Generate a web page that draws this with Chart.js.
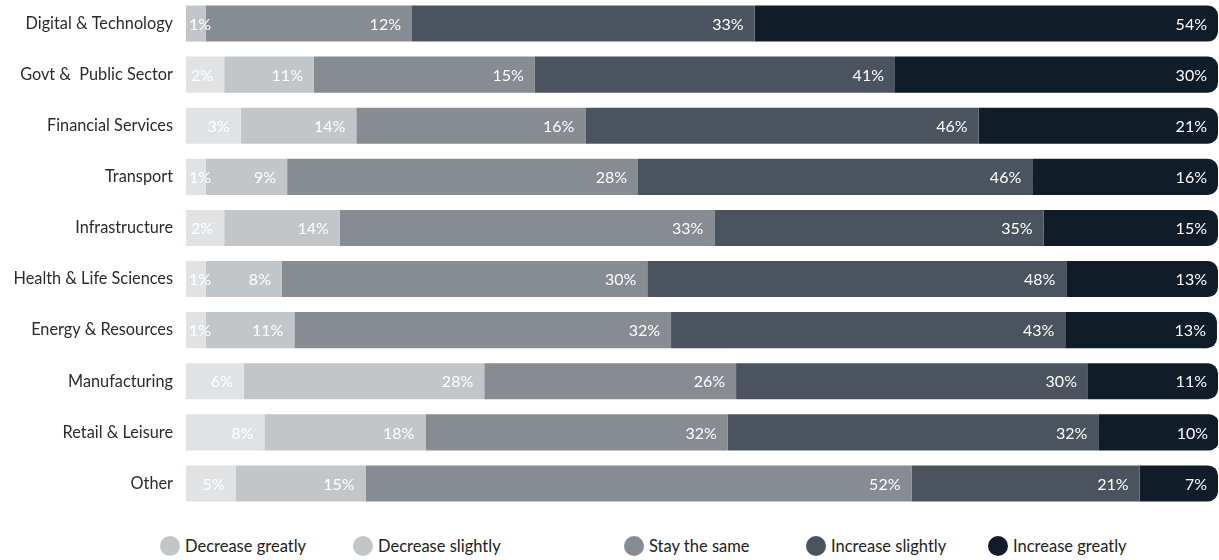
<!DOCTYPE html>
<html>
<head>
<meta charset="utf-8">
<script src="https://cdn.jsdelivr.net/npm/chart.js@4/dist/chart.umd.min.js"></script>
<style>
  html, body { margin: 0; padding: 0; background: #fff; }
  #wrap { position: relative; width: 1219px; height: 560px; overflow: hidden; }
  #chart { position: absolute; left: 0; top: -2px; }
  #legend { position: absolute; left: 0; top: 535px; width: 1219px; height: 22px; }
  .leg-item { position: absolute; top: 0; display: flex; align-items: center; height: 22px;
    font-family: Lato, "Open Sans", sans-serif; font-size: 16.5px; color: #222; white-space: nowrap; }
  .leg-dot { width: 20px; height: 20px; border-radius: 50%; margin-right: 5px; }
</style>
</head>
<body>
<div id="wrap">
  <canvas id="chart" width="1219" height="511"></canvas>
  <div id="legend"></div>
</div>
<script>
const sectors = [
  "Digital & Technology", "Govt &  Public Sector", "Financial Services", "Transport",
  "Infrastructure", "Health & Life Sciences", "Energy & Resources", "Manufacturing",
  "Retail & Leisure", "Other"
];

const seriesNames = ["Decrease greatly", "Decrease slightly", "Stay the same", "Increase slightly", "Increase greatly"];

// drawn segment lengths (share of the bar)
const decreaseGreatly = [0, 3.7, 5.3, 1.9, 3.7, 1.9, 1.9, 5.6, 7.6, 4.8];
const decreaseSlightly = [1.9, 8.7, 11.2, 7.9, 11.2, 7.4, 8.6, 23.3, 15.6, 12.6];
const stayTheSame = [20.0, 21.4, 22.2, 34.0, 36.3, 35.4, 36.5, 24.4, 29.3, 52.9];
const increaseSlightly = [33.2, 34.9, 38.1, 38.2, 31.9, 40.6, 38.2, 34.1, 35.9, 22.1];
const increaseGreatly = [44.9, 31.3, 23.2, 18.0, 16.9, 14.7, 14.7, 12.6, 11.7, 7.6];

// printed percentages
const decreaseGreatlyLbl = [null, 2, 3, 1, 2, 1, 1, 6, 8, 5];
const decreaseSlightlyLbl = [1, 11, 14, 9, 14, 8, 11, 28, 18, 15];
const stayTheSameLbl = [12, 15, 16, 28, 33, 30, 32, 26, 32, 52];
const increaseSlightlyLbl = [33, 41, 46, 46, 35, 48, 43, 30, 32, 21];
const increaseGreatlyLbl = [54, 30, 21, 16, 15, 13, 13, 11, 10, 7];

const barColors = ["#e1e2e4", "#c3c6c9", "#878c92", "#4b545e", "#111c29"];
const legendColors = ["#c3c6c9", "#c3c6c9", "#878c92", "#4b545e", "#111c29"];
const legendLeft = [160, 353, 624, 806, 988];

const values = [decreaseGreatly, decreaseSlightly, stayTheSame, increaseSlightly, increaseGreatly];
const printed = [decreaseGreatlyLbl, decreaseSlightlyLbl, stayTheSameLbl, increaseSlightlyLbl, increaseGreatlyLbl];

const segmentLabels = {
  id: "segmentLabels",
  afterDatasetsDraw(chart) {
    const ctx = chart.ctx;
    ctx.save();
    ctx.font = "16px Lato, 'Open Sans', sans-serif";
    ctx.fillStyle = "#ffffff";
    ctx.textBaseline = "middle";
    ctx.textAlign = "left";
    chart.data.datasets.forEach((ds, i) => {
      const meta = chart.getDatasetMeta(i);
      meta.data.forEach((bar, j) => {
        const v = ds.printed[j];
        if (v === null || v === undefined) return;
        const text = v + "%";
        const w = ctx.measureText(text).width;
        const left = Math.min(bar.base, bar.x);
        const right = Math.max(bar.base, bar.x);
        let x = right - 11 - w;
        if (x < left + 3) x = left + 3;
        ctx.fillText(text, x, bar.y + 1);
      });
    });
    ctx.restore();
  }
};

const datasets = seriesNames.map((name, i) => {
  const last = i === seriesNames.length - 1;
  return {
    label: name,
    data: values[i],
    printed: printed[i],
    backgroundColor: barColors[i],
    borderWidth: 0,
    borderSkipped: false,
    borderRadius: last ? { topLeft: 0, bottomLeft: 0, topRight: 10, bottomRight: 10 } : 0,
    barPercentage: 0.706,
    categoryPercentage: 1
  };
});

new Chart(document.getElementById("chart"), {
  type: "bar",
  data: { labels: sectors, datasets },
  options: {
    indexAxis: "y",
    responsive: false,
    animation: false,
    layout: { padding: { left: 0, right: 1, top: 0, bottom: 0 } },
    plugins: {
      legend: { display: false },
      tooltip: { enabled: false }
    },
    scales: {
      x: {
        stacked: true,
        min: 0,
        max: 100,
        display: false
      },
      y: {
        stacked: true,
        grid: { display: false, drawTicks: false },
        border: { display: false },
        ticks: {
          color: "#2b2b2b",
          padding: 13,
          font: { family: "Lato, 'Open Sans', sans-serif", size: 16.3 }
        },
        afterFit(axis) {
          axis.width = 186;
          axis.paddingTop = 0;
          axis.paddingBottom = 0;
        }
      }
    }
  },
  plugins: [segmentLabels]
});

const legendEl = document.getElementById("legend");
seriesNames.forEach((name, i) => {
  const item = document.createElement("div");
  item.className = "leg-item";
  item.style.left = legendLeft[i] + "px";
  item.innerHTML = `<span class="leg-dot" style="background:${legendColors[i]}"></span><span>${name}</span>`;
  legendEl.appendChild(item);
});
</script>
</body>
</html>
